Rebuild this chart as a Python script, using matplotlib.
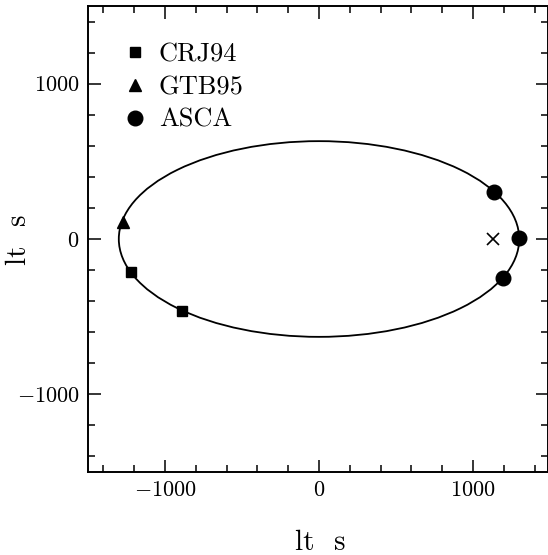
import numpy as np
import matplotlib
matplotlib.use("Agg")
import matplotlib.pyplot as plt
from matplotlib.patches import Ellipse
from matplotlib.ticker import MultipleLocator

# Orbit ellipse (lt s)
semi_major = 1300
semi_minor = 630
focus_x = 1130
focus_y = 0

# Positions of the observations (lt s)
crj94_x = [-1222, -890]
crj94_y = [-212, -462]
gtb95_x = [-1274]
gtb95_y = [109]
asca_x = [1134, 1297, 1192]
asca_y = [301, 6, -250]

plt.rcParams['font.family'] = 'serif'
plt.rcParams['font.serif'] = ['cmr10', 'DejaVu Serif']
plt.rcParams['mathtext.fontset'] = 'cm'
plt.rcParams['axes.formatter.use_mathtext'] = True

W, H = 548, 555
fig = plt.figure(figsize=(W / 100, H / 100), dpi=100)
ax = fig.add_axes([88 / W, 1 - 472 / H, 460 / W, 466 / H])

ax.add_patch(Ellipse((0, 0), 2 * semi_major, 2 * semi_minor, fill=False,
                     edgecolor='black', linewidth=1.3))
ax.plot(crj94_x, crj94_y, 's', color='black', markersize=7, label='CRJ94')
ax.plot(gtb95_x, gtb95_y, '^', color='black', markersize=8, label='GTB95')
ax.plot(asca_x, asca_y, 'o', color='black', markersize=10.5, label='ASCA')
ax.plot([focus_x], [focus_y], 'x', color='black', markersize=8, markeredgewidth=1.2)

ax.set_xlim(-1500, 1487)
ax.set_ylim(-1500, 1500)
ax.xaxis.set_major_locator(MultipleLocator(1000))
ax.xaxis.set_minor_locator(MultipleLocator(200))
ax.yaxis.set_major_locator(MultipleLocator(1000))
ax.yaxis.set_minor_locator(MultipleLocator(200))
ax.tick_params(which='both', direction='in', top=True, right=True,
               labelsize=16, width=1.1)
ax.tick_params(which='major', length=9, pad=6)
ax.tick_params(which='minor', length=5)
for sp in ax.spines.values():
    sp.set_linewidth(1.4)

# axis labels placed in figure pixels
fig.text(320 / W, 1 - 550 / H, 'lt  s', fontsize=21, ha='center', va='baseline')
fig.text(19 / W, 1 - 240 / H, 'lt  s', fontsize=21, ha='center', va='center',
         rotation=90)

ax.legend(loc='upper left', frameon=False, fontsize=19, handletextpad=0.3,
          labelspacing=0.34, handlelength=1.2, borderaxespad=0, borderpad=0,
          bbox_to_anchor=(0.068, 0.921))

fig.savefig('out.png', dpi=100)
